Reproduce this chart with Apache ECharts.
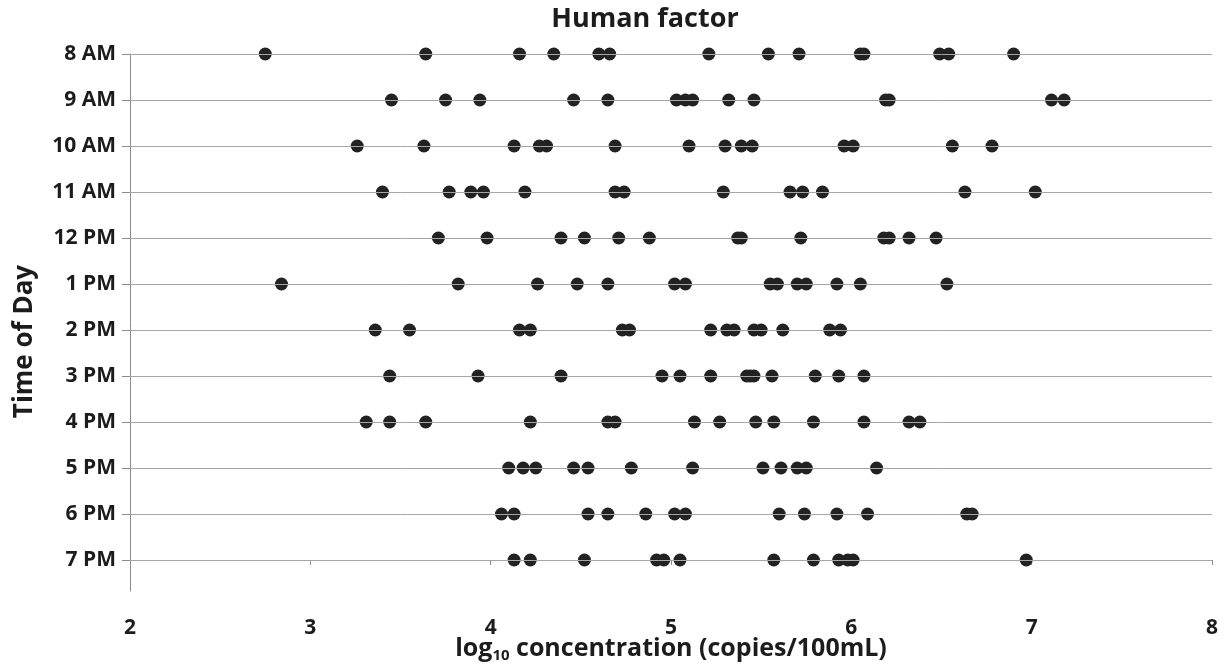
<!DOCTYPE html>
<html>
<head>
<meta charset="utf-8">
<title>Human factor</title>
<script src="https://cdn.jsdelivr.net/npm/echarts@6/dist/echarts.min.js"></script>
<style>
  html, body { margin: 0; padding: 0; background: #ffffff; }
  #chart { width: 1232px; height: 666px; }
</style>
</head>
<body>
<div id="chart"></div>
<script>
// Time slots, listed top to bottom
const timeLabels = ['8 AM', '9 AM', '10 AM', '11 AM', '12 PM', '1 PM',
                    '2 PM', '3 PM', '4 PM', '5 PM', '6 PM', '7 PM'];

// log10 concentrations (copies/100mL) measured at each time slot
const am8  = [2.75, 3.64, 4.16, 4.35, 4.60, 4.66, 5.21, 5.54, 5.71, 6.05, 6.07, 6.49, 6.54, 6.90];
const am9  = [3.45, 3.75, 3.94, 4.46, 4.65, 5.03, 5.08, 5.12, 5.32, 5.46, 6.19, 6.21, 7.11, 7.18];
const am10 = [3.26, 3.63, 4.13, 4.27, 4.31, 4.69, 5.10, 5.30, 5.39, 5.45, 5.96, 6.01, 6.56, 6.78];
const am11 = [3.40, 3.77, 3.89, 3.96, 4.19, 4.69, 4.74, 5.29, 5.66, 5.73, 5.84, 6.63, 7.02];
const pm12 = [3.71, 3.98, 4.39, 4.52, 4.71, 4.88, 5.37, 5.39, 5.72, 6.18, 6.21, 6.32, 6.47];
const pm1  = [2.84, 3.82, 4.26, 4.48, 4.65, 5.02, 5.08, 5.55, 5.59, 5.70, 5.75, 5.92, 6.05, 6.53];
const pm2  = [3.36, 3.55, 4.16, 4.22, 4.73, 4.77, 5.22, 5.31, 5.35, 5.46, 5.50, 5.62, 5.88, 5.94];
const pm3  = [3.44, 3.93, 4.39, 4.95, 5.05, 5.22, 5.42, 5.44, 5.46, 5.56, 5.80, 5.93, 6.07];
const pm4  = [3.31, 3.44, 3.64, 4.22, 4.65, 4.69, 5.13, 5.27, 5.47, 5.57, 5.79, 6.07, 6.32, 6.38];
const pm5  = [4.10, 4.18, 4.25, 4.46, 4.54, 4.78, 5.12, 5.51, 5.61, 5.70, 5.75, 6.14];
const pm6  = [4.06, 4.13, 4.54, 4.65, 4.86, 5.02, 5.08, 5.60, 5.74, 5.92, 6.09, 6.64, 6.67];
const pm7  = [4.13, 4.22, 4.52, 4.92, 4.96, 5.05, 5.57, 5.79, 5.93, 5.98, 6.01, 6.97];

// x-axis tick values
const xTicks = [2, 3, 4, 5, 6, 7, 8];

const rows = [am8, am9, am10, am11, pm12, pm1, pm2, pm3, pm4, pm5, pm6, pm7];

// Row positions on the vertical value axis: first slot at the top
const rowCount = timeLabels.length;
const rowPos = timeLabels.map((_, i) => rowCount - 1 - i);

const FONT = '"Open Sans", "Noto Sans", sans-serif';
const TEXT = '#1c1c1c';

const series = rows.map((vals, i) => ({
  name: timeLabels[i],
  type: 'scatter',
  symbol: 'circle',
  symbolSize: 13,
  itemStyle: { color: '#222222', opacity: 1 },
  data: vals.map(v => [v, rowPos[i]]),
  z: 3
}));

const chart = echarts.init(document.getElementById('chart'), null, { renderer: 'canvas' });
chart.setOption({
  backgroundColor: '#ffffff',
  animation: false,
  title: {
    text: 'Human factor',
    left: 640,
    textAlign: 'center',
    top: 1,
    textStyle: { fontFamily: FONT, fontWeight: 'bold', fontSize: 27, color: TEXT }
  },
  grid: { left: 130, right: 20, top: 54, bottom: 75, containLabel: false, outerBoundsMode: 'none' },
  xAxis: {
    type: 'value',
    min: xTicks[0],
    max: xTicks[xTicks.length - 1],
    interval: 1,
    name: '{a|log}{s|10}{a| concentration (copies/100mL)}',
    nameLocation: 'middle',
    nameGap: 44,
    nameMoveOverlap: false,
    nameTextStyle: {
      rich: {
        a: { fontFamily: FONT, fontWeight: 'bold', fontSize: 25, color: TEXT, lineHeight: 28 },
        s: { fontFamily: FONT, fontWeight: 'bold', fontSize: 15, color: TEXT,
             verticalAlign: 'bottom', lineHeight: 16, padding: [10, 0, 0, 0] }
      }
    },
    axisLine: { show: true, lineStyle: { color: '#8c8c8c', width: 1 } },
    axisTick: { show: true, length: 5, lineStyle: { color: '#8c8c8c' } },
    splitLine: { show: false },
    axisLabel: {
      margin: 27,
      fontFamily: FONT, fontWeight: 'bold', fontSize: 21, color: TEXT
    }
  },
  yAxis: {
    type: 'value',
    min: -0.674,
    max: rowCount - 1,
    name: 'Time of Day',
    nameLocation: 'middle',
    nameGap: 92,
    nameMoveOverlap: false,
    nameTextStyle: { fontFamily: FONT, fontWeight: 'bold', fontSize: 26, color: TEXT,
                     padding: [0, 38, 0, 0] },
    axisLine: { show: true, lineStyle: { color: '#8c8c8c', width: 1 } },
    axisTick: { show: true, length: 8, customValues: rowPos, lineStyle: { color: '#8c8c8c' } },
    splitLine: { show: false },
    axisLabel: {
      customValues: rowPos,
      margin: 14,
      fontFamily: FONT, fontWeight: 'bold', fontSize: 21, color: TEXT,
      formatter: v => timeLabels[rowCount - 1 - Math.round(v)]
    }
  },
  series: series.concat([{
    // horizontal guide line for every time slot
    type: 'scatter',
    data: [],
    silent: true,
    markLine: {
      silent: true,
      symbol: 'none',
      label: { show: false },
      lineStyle: { color: '#a6a6a6', width: 1, type: 'solid' },
      data: rowPos.map(p => ({ yAxis: p }))
    },
    z: 1
  }])
});
</script>
</body>
</html>
